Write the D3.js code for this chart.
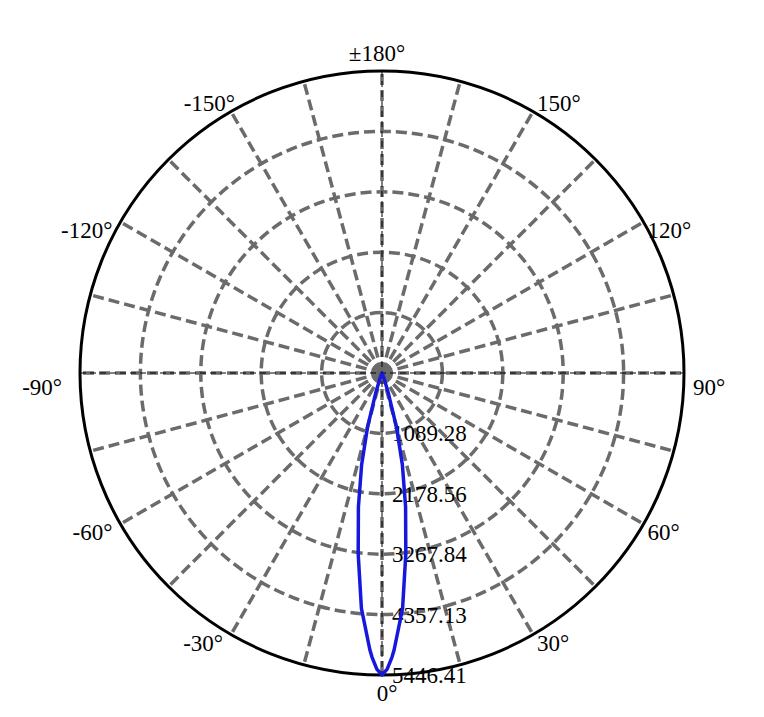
<!doctype html>
<meta charset="utf-8">
<title>Polar intensity</title>
<style>
  body { margin: 0; background: #fff; }
  text { font-family: "Liberation Serif", "DejaVu Serif", serif; font-size: 23px; fill: #000; }
</style>
<svg id="visual" width="764" height="717"></svg>
<script src="https://cdn.jsdelivr.net/npm/d3@7/dist/d3.min.js"></script>
<script>

// (data) gamma angle in degrees (0 = down, + = right) and intensity
var gammaAngles = [-180, -90, -40, -30, -25, -20, -17.5, -15, -12.5, -10, -7.5, -5, -2.5, -2, -1, 0,
                   1, 2, 2.5, 5, 7.5, 10, 12.5, 15, 17.5, 20, 25, 30, 40, 90, 180];
var intensity = [0, 0, 0, 10, 30, 120, 380, 1000, 1700, 2450, 3290, 4260, 5000, 5130, 5340, 5446.41,
                 5340, 5130, 5000, 4260, 3290, 2450, 1700, 1000, 380, 120, 30, 10, 0, 0, 0];

// (ticks)
var ringValues = [1089.28, 2178.56, 3267.84, 4357.13, 5446.41];
var ringLabels = ["1089.28", "2178.56", "3267.84", "4357.13", "5446.41"];
var angleTicks = [0, 30, 60, 90, 120, 150, 180, -150, -120, -90, -60, -30];
var angleLabels = ["0°", "30°", "60°", "90°", "120°", "150°", "±180°", "-150°", "-120°", "-90°", "-60°", "-30°"];

var cx = 382, cy = 373, R = 302;
var gridColor = "#6b6b6b";
var rad = function(deg) { return deg * Math.PI / 180; };

var r = d3.scaleLinear().domain([0, ringValues[ringValues.length - 1]]).range([0, R]);

var svg = d3.select("#visual");
var g = svg.append("g").attr("transform", "translate(" + cx + "," + cy + ")");

// (rings)
g.selectAll("circle.ring")
  .data(ringValues.slice(0, -1))
  .enter().append("circle")
  .attr("class", "ring")
  .attr("r", function(d) { return r(d); })
  .attr("fill", "none")
  .attr("stroke", gridColor)
  .attr("stroke-width", 3.5)
  .attr("stroke-dasharray", "11,5");

// (spokes) every 15 degrees
g.selectAll("line.spoke")
  .data(d3.range(0, 360, 15))
  .enter().append("line")
  .attr("class", "spoke")
  .attr("x1", 0).attr("y1", 0)
  .attr("x2", function(d) { return R * Math.sin(rad(d)); })
  .attr("y2", function(d) { return R * Math.cos(rad(d)); })
  .attr("stroke", gridColor)
  .attr("stroke-width", 3.5)
  .attr("stroke-dasharray", "11,5");

// (axis lines) thin black dashed
g.selectAll("line.axis")
  .data([[-R, 0, R, 0], [0, -R, 0, R]])
  .enter().append("line")
  .attr("class", "axis")
  .attr("x1", function(d) { return d[0]; })
  .attr("y1", function(d) { return d[1]; })
  .attr("x2", function(d) { return d[2]; })
  .attr("y2", function(d) { return d[3]; })
  .attr("stroke", "#000")
  .attr("stroke-width", 1)
  .attr("stroke-dasharray", "6,4");

// (outer circle)
g.append("circle")
  .attr("r", R)
  .attr("fill", "none")
  .attr("stroke", "#000")
  .attr("stroke-width", 3);

// (radial labels)
g.selectAll("text.rlab")
  .data(ringValues)
  .enter().append("text")
  .attr("class", "rlab")
  .attr("x", 10)
  .attr("y", function(d) { return r(d); })
  .attr("dy", "0.35em")
  .text(function(d, i) { return ringLabels[i]; });

// (angle labels)
g.selectAll("text.alab")
  .data(angleTicks)
  .enter().append("text")
  .attr("class", "alab")
  .each(function(d, i) {
    var s = Math.sin(rad(d)), c = Math.cos(rad(d));
    var side = s > 0.01 ? 1 : (s < -0.01 ? -1 : 0);
    var top = Math.abs(d) <= 120;
    var pad = (d % 180 === 0) ? 10 : (d % 90 === 0 ? (side < 0 ? 10 : 5) : 0);
    var x = (R + pad) * s + (side > 0 ? 4 : (side < 0 ? (top ? -8 : 4) : 5 * c));
    var y = (R + pad) * c;
    if (Math.abs(s) > 0.99) y += 6;
    d3.select(this)
      .attr("x", x)
      .attr("y", top ? y + 16 : y)
      .attr("text-anchor", side > 0 ? "start" : (side < 0 ? "end" : "middle"))
      .text(angleLabels[i]);
  });

// (curve)
var points = gammaAngles.map(function(a, i) { return {a: a, v: intensity[i]}; });
var line = d3.lineRadial()
  .angle(function(d) { return Math.PI - rad(d.a); })
  .radius(function(d) { return r(d.v); });

g.append("path")
  .datum(points)
  .attr("d", line)
  .attr("fill", "none")
  .attr("stroke", "#1818dc")
  .attr("stroke-width", 3.5)
  .attr("stroke-linejoin", "round");

</script>
